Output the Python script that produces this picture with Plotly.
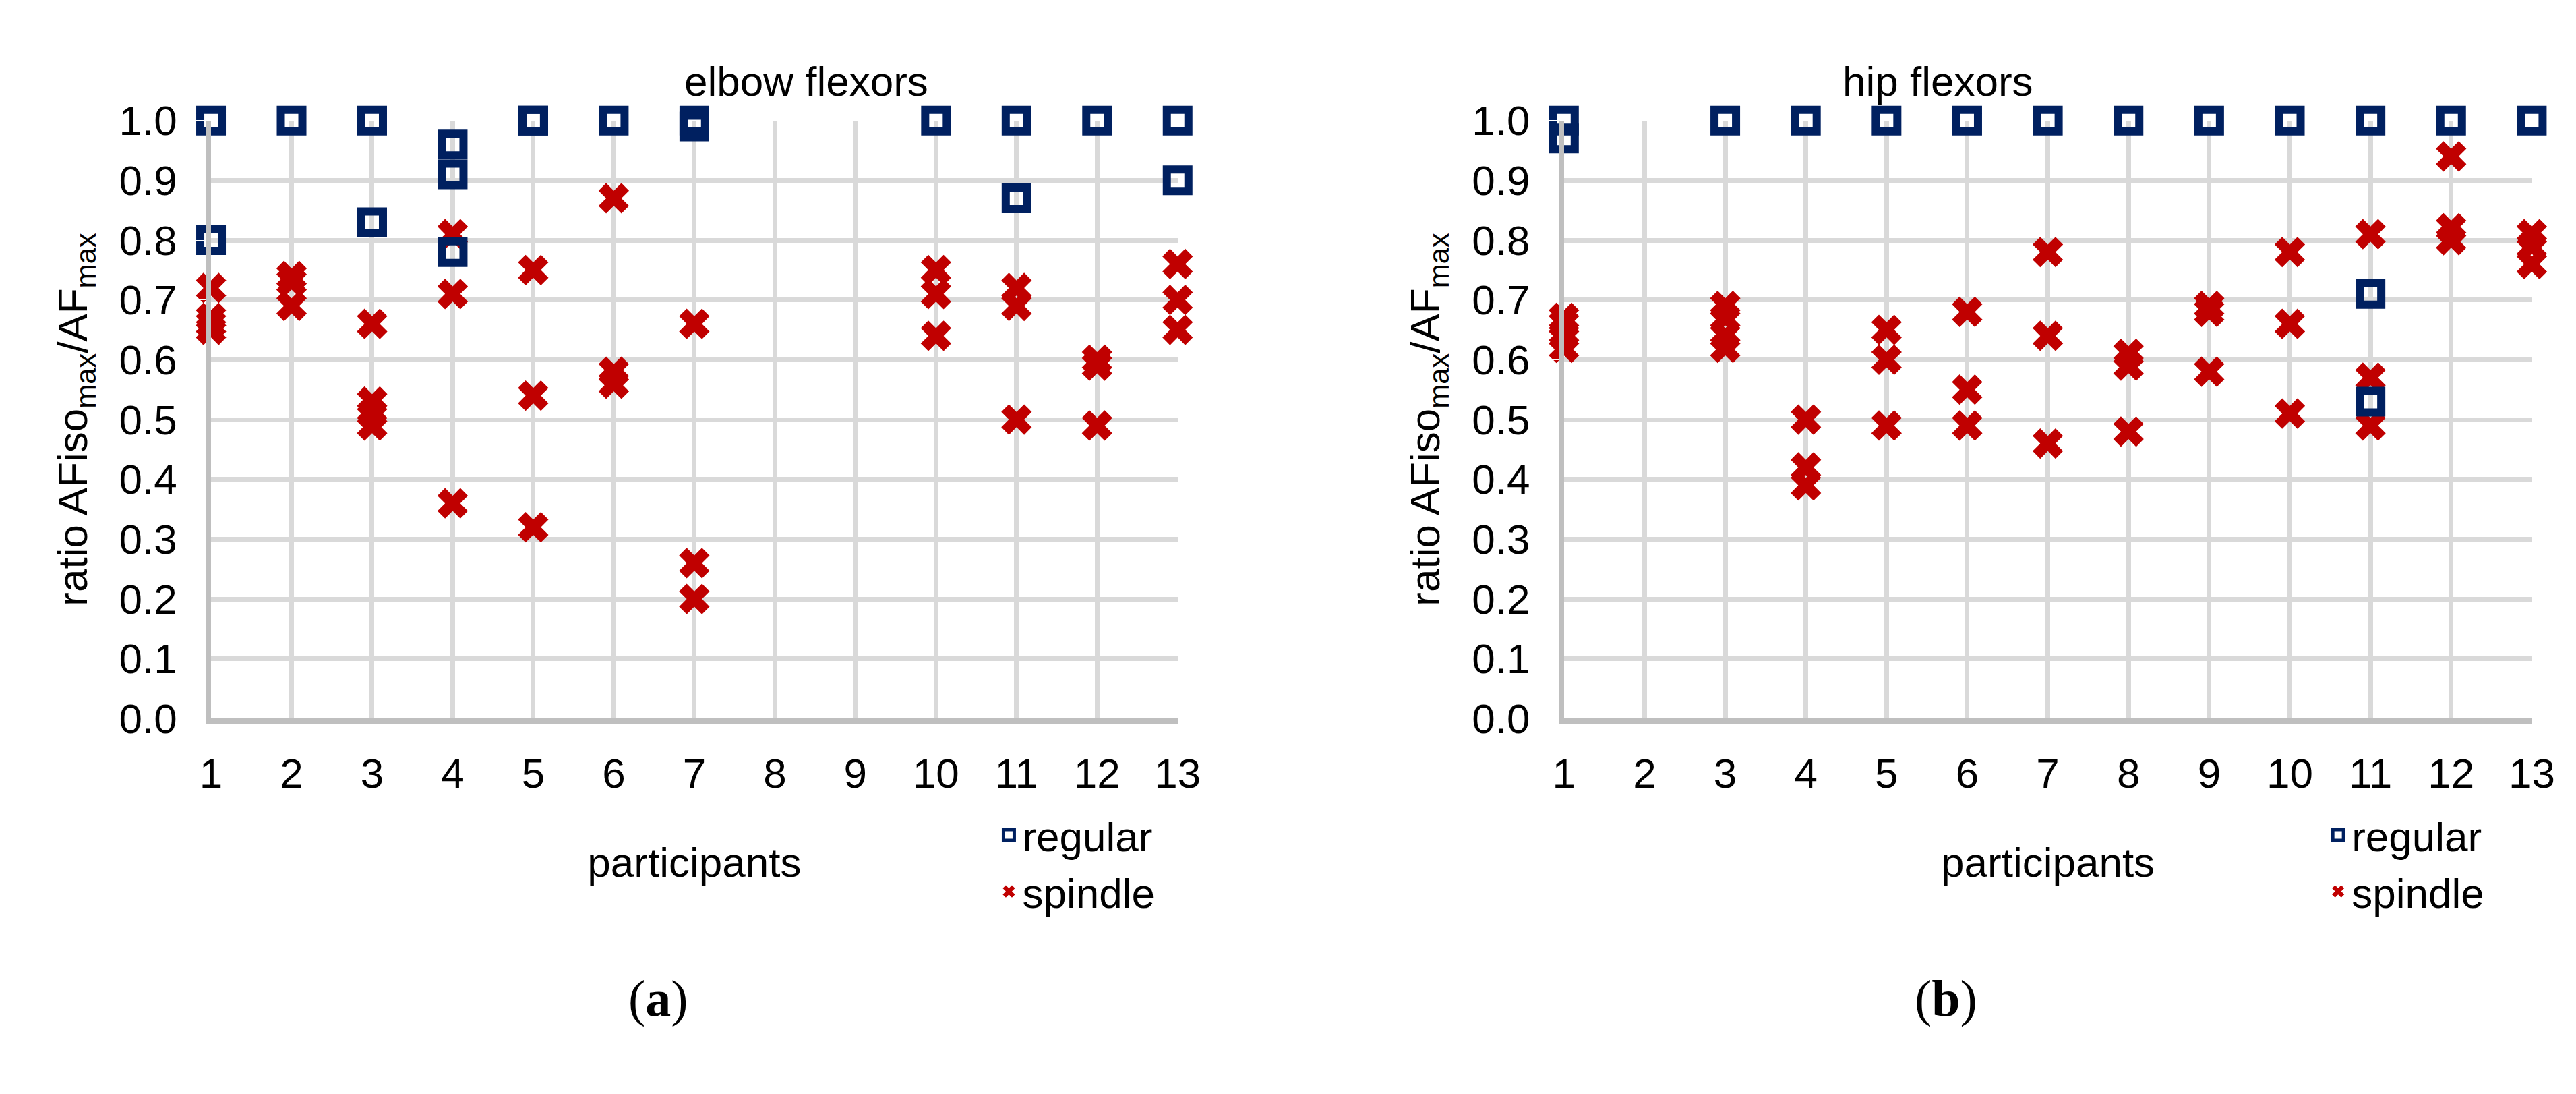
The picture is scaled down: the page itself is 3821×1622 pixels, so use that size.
import plotly.graph_objects as go

# elbow flexors (a)
elbow_reg_x = [1, 1, 2, 3, 3, 4, 4, 4, 5, 5, 6, 7, 7, 10, 11, 11, 12, 13, 13]
elbow_reg_y = [1.0, 0.80, 1.0, 1.0, 0.83, 0.96, 0.91, 0.78, 1.0, 1.0, 1.0, 1.0, 0.99, 1.0, 1.0, 0.87, 1.0, 1.0, 0.90]
elbow_spi_x = [1, 1, 1, 1, 2, 2, 2, 3, 3, 3, 3, 4, 4, 4, 5, 5, 5, 6, 6, 6, 7, 7, 7,
               10, 10, 10, 11, 11, 11, 12, 12, 12, 13, 13, 13]
elbow_spi_y = [0.72, 0.67, 0.66, 0.65, 0.74, 0.73, 0.69, 0.66, 0.53, 0.51, 0.49, 0.81, 0.71, 0.36,
               0.75, 0.54, 0.32, 0.87, 0.58, 0.56, 0.66, 0.26, 0.20,
               0.75, 0.71, 0.64, 0.72, 0.69, 0.50, 0.60, 0.59, 0.49, 0.76, 0.70, 0.65]

# hip flexors (b)
hip_reg_x = [1, 1, 3, 4, 5, 6, 7, 8, 9, 10, 11, 11, 11, 12, 13]
hip_reg_y = [1.0, 0.97, 1.0, 1.0, 1.0, 1.0, 1.0, 1.0, 1.0, 1.0, 1.0, 0.71, 0.53, 1.0, 1.0]
hip_spi_x = [1, 1, 1, 1, 3, 3, 3, 3, 4, 4, 4, 5, 5, 5, 6, 6, 6, 7, 7, 7, 8, 8, 8,
             9, 9, 9, 10, 10, 10, 11, 11, 11, 12, 12, 12, 13, 13, 13]
hip_spi_y = [0.67, 0.66, 0.64, 0.62, 0.69, 0.67, 0.64, 0.62, 0.50, 0.42, 0.39, 0.65, 0.60, 0.49,
             0.68, 0.55, 0.49, 0.78, 0.64, 0.46, 0.61, 0.59, 0.48,
             0.69, 0.68, 0.58, 0.78, 0.66, 0.51, 0.81, 0.57, 0.49, 0.94, 0.82, 0.80, 0.81, 0.79, 0.76]

x_ticks = list(range(1, 14))
y_ticks = [i / 10 for i in range(11)]

NAVY = "#002060"
RED = "#C00000"
FONT = "Liberation Sans"
FS = 62

fig = go.Figure()

def add_panel(rx, ry, sx, sy, xa, ya, legend):
    fig.add_trace(go.Scatter(
        x=sx, y=sy, mode="markers", name="spindle", xaxis=xa, yaxis=ya, legend=legend,
        marker=dict(symbol="x", size=40, color=RED, line=dict(width=0))))
    fig.add_trace(go.Scatter(
        x=rx, y=ry, mode="markers", name="regular", xaxis=xa, yaxis=ya, legend=legend,
        marker=dict(symbol="square-open", size=32, color=NAVY, line=dict(width=12, color=NAVY))))

add_panel(elbow_reg_x, elbow_reg_y, elbow_spi_x, elbow_spi_y, "x", "y", "legend")
add_panel(hip_reg_x, hip_reg_y, hip_spi_x, hip_spi_y, "x2", "y2", "legend2")

xax = dict(range=[1, 13], tickvals=x_ticks, showgrid=True, gridcolor="#d9d9d9", gridwidth=7,
           showline=True, linecolor="#bfbfbf", linewidth=8, zeroline=False,
           tickfont=dict(size=FS, family=FONT, color="black"), ticks="outside", ticklen=20, tickcolor="white",
           title=dict(text="participants", font=dict(size=FS, family=FONT, color="black"), standoff=80))
yax = dict(range=[0, 1.0], tickvals=y_ticks, tickformat=".1f", showgrid=True, gridcolor="#d9d9d9",
           gridwidth=7, showline=True, linecolor="#bfbfbf", linewidth=8, zeroline=False,
           tickfont=dict(size=FS, family=FONT, color="black"), ticks="outside", ticklen=30, tickcolor="white",
           title=dict(text="ratio AFiso<sub>max</sub>/AF<sub>max</sub>",
                      font=dict(size=FS, family=FONT, color="black"), standoff=30))

leg = dict(font=dict(size=FS, family=FONT, color="black"), bgcolor="rgba(0,0,0,0)",
           traceorder="reversed", itemwidth=30, yanchor="top", xanchor="left")

fig.update_layout(
    width=3821, height=1622, paper_bgcolor="white", plot_bgcolor="white",
    margin=dict(l=0, r=0, t=0, b=0), showlegend=True,
    xaxis=dict(xax, domain=[0.0764, 0.4567], anchor="y"),
    yaxis=dict(yax, domain=[0.341, 0.912], anchor="x"),
    xaxis2=dict(xax, domain=[0.6087, 0.9895], anchor="y2"),
    yaxis2=dict(yax, domain=[0.341, 0.912], anchor="x2"),
    legend=dict(leg, x=0.385, y=0.26),
    legend2=dict(leg, x=0.908, y=0.26),
    annotations=[
        dict(text="elbow flexors", x=0.262, y=0.973, xref="paper", yref="paper", showarrow=False,
             font=dict(size=FS, family=FONT, color="black")),
        dict(text="hip flexors", x=0.794, y=0.973, xref="paper", yref="paper", showarrow=False,
             font=dict(size=FS, family=FONT, color="black")),
        dict(text="(<b>a</b>)", x=0.24, y=0.045, xref="paper", yref="paper", showarrow=False,
             font=dict(size=76, family="Liberation Serif", color="black")),
        dict(text="(<b>b</b>)", x=0.772, y=0.045, xref="paper", yref="paper", showarrow=False,
             font=dict(size=76, family="Liberation Serif", color="black")),
    ],
)

fig.update_traces(cliponaxis=False)
fig.write_html("out.html")
